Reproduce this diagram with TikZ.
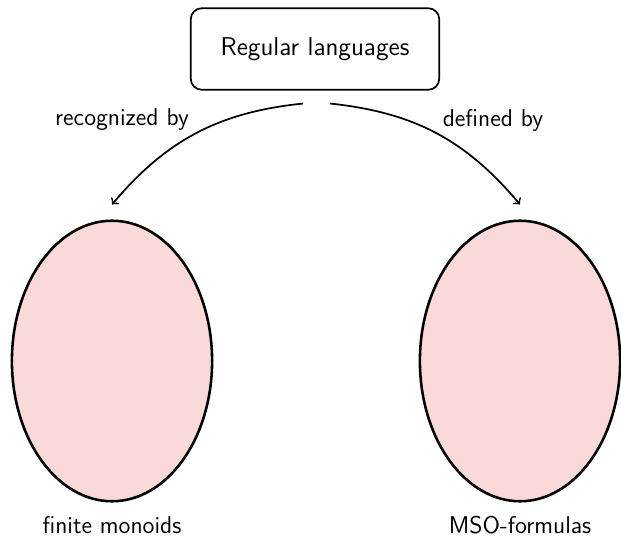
\documentclass[tikz,border=0pt]{standalone}
\usepackage{xcolor}
\usepackage{tikz}
\usetikzlibrary{shapes.geometric, positioning}

\definecolor{setpink}{RGB}{249,218,216}

\begin{document}
\begin{tikzpicture}[x=0.467pt, y=-0.467pt, font=\sffamily\fontsize{11.3pt}{13pt}\selectfont]
    % Canvas
    \useasboundingbox (0,0) rectangle (621,539);

    % Class of languages
    \node[draw, thick, rounded corners=5pt, minimum width=116pt, minimum height=38pt, font=\sffamily\large] (reg) at (315,49) {Regular languages};

    % Two characterizations
    \node[draw, very thick, ellipse, fill=setpink, minimum width=93.5pt, minimum height=131pt] (mon) at (112,361) {};
    \node[draw, very thick, ellipse, fill=setpink, minimum width=93.5pt, minimum height=131pt] (mso) at (520,361) {};
    \node[below=3pt of mon] (monlbl) {finite monoids};
    \node[below=3pt of mso] (msolbl) {MSO-formulas};

    % Arrows
    \draw[->, thick] ([shift={(-12,13)}]reg.south) to[bend right=22] ([yshift=7pt]mon.north);
    \draw[->, thick] ([shift={(15,13)}]reg.south) to[bend left=22] ([yshift=7pt]mso.north);
    \node (rlbl) at (122,120) {recognized by};
    \node (dlbl) at (493,120) {defined by};
\end{tikzpicture}
\end{document}
